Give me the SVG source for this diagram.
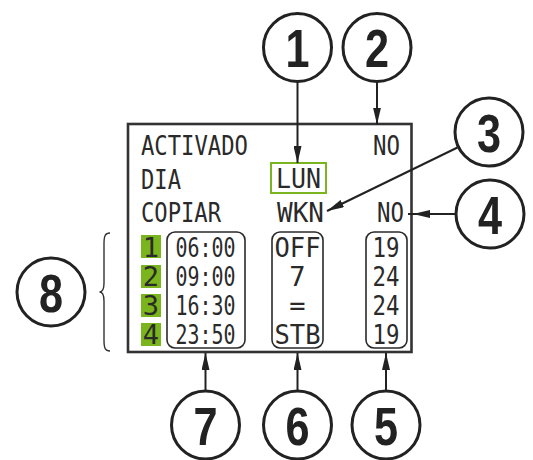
<svg xmlns="http://www.w3.org/2000/svg" width="533" height="460" viewBox="0 0 533 460">
<style>
.lcd{font-family:"DejaVu Sans Mono","Liberation Mono",monospace;font-size:27px;fill:#2a2a2a}
.mid{text-anchor:middle}
.circ{fill:#fff;stroke:#222;stroke-width:3}
.num{font-family:"Liberation Sans","Arial",sans-serif;font-weight:bold;font-size:54px;fill:#222;text-anchor:middle}
.conn{fill:none;stroke:#222;stroke-width:2}
.rbox{fill:none;stroke:#2a2a2a;stroke-width:1.6}
.sq{fill:#7ab51d}
</style>
<defs>
<marker id="ah" viewBox="0 0 17 8" refX="17" refY="4" markerWidth="17" markerHeight="8" markerUnits="userSpaceOnUse" orient="auto">
<path d="M0,0 L17,4 L0,8 Z" fill="#222"/>
</marker>
</defs>
<rect width="533" height="460" fill="#fff"/>

<g id="display">
<rect x="128" y="124" width="283.5" height="228" fill="#fff" stroke="#333" stroke-width="2.6"/>
<text class="lcd" x="141" y="155" textLength="107" lengthAdjust="spacingAndGlyphs">ACTIVADO</text>
<text class="lcd" x="373" y="155" textLength="27" lengthAdjust="spacingAndGlyphs">NO</text>
<text class="lcd" x="141" y="189" textLength="40" lengthAdjust="spacingAndGlyphs">DIA</text>
<rect x="271" y="163" width="55" height="30" fill="none" stroke="#7ab51d" stroke-width="2"/>
<text class="lcd" x="276" y="188" textLength="45" lengthAdjust="spacingAndGlyphs">LUN</text>
<text class="lcd" x="141" y="222" textLength="80" lengthAdjust="spacingAndGlyphs">COPIAR</text>
<text class="lcd" x="277" y="222" textLength="47" lengthAdjust="spacingAndGlyphs">WKN</text>
<text class="lcd" x="377" y="222" textLength="27" lengthAdjust="spacingAndGlyphs">NO</text>
</g>

<g id="programs">
<rect class="sq" x="141" y="235" width="20" height="23"/>
<rect class="sq" x="141" y="265" width="20" height="23"/>
<rect class="sq" x="141" y="294" width="20" height="23"/>
<rect class="sq" x="141" y="323" width="20" height="23"/>
<text class="lcd mid" x="151" y="256.5">1</text>
<text class="lcd mid" x="151" y="285.5">2</text>
<text class="lcd mid" x="151" y="314.5">3</text>
<text class="lcd mid" x="151" y="343.5">4</text>
</g>

<g id="times">
<rect class="rbox" x="167" y="232" width="78" height="116" rx="8"/>
<text class="lcd mid" x="205.5" y="256.5" textLength="60" lengthAdjust="spacingAndGlyphs">06:00</text>
<text class="lcd mid" x="205.5" y="285.5" textLength="60" lengthAdjust="spacingAndGlyphs">09:00</text>
<text class="lcd mid" x="205.5" y="314.5" textLength="60" lengthAdjust="spacingAndGlyphs">16:30</text>
<text class="lcd mid" x="205.5" y="343.5" textLength="60" lengthAdjust="spacingAndGlyphs">23:50</text>
</g>

<g id="modes">
<rect class="rbox" x="272" y="232" width="51" height="116" rx="8"/>
<text class="lcd mid" x="297.5" y="256.5" textLength="46" lengthAdjust="spacingAndGlyphs">OFF</text>
<text class="lcd mid" x="297.5" y="285.5">7</text>
<text class="lcd mid" x="297.5" y="314.5">=</text>
<text class="lcd mid" x="297.5" y="343.5" textLength="46" lengthAdjust="spacingAndGlyphs">STB</text>
</g>

<g id="temps">
<rect class="rbox" x="366" y="232" width="41" height="116" rx="8"/>
<text class="lcd mid" x="386" y="256.5" textLength="27" lengthAdjust="spacingAndGlyphs">19</text>
<text class="lcd mid" x="386" y="285.5" textLength="27" lengthAdjust="spacingAndGlyphs">24</text>
<text class="lcd mid" x="386" y="314.5" textLength="27" lengthAdjust="spacingAndGlyphs">24</text>
<text class="lcd mid" x="386" y="343.5" textLength="27" lengthAdjust="spacingAndGlyphs">19</text>
</g>

<g id="connectors">
<path class="conn" d="M297.5,81.5 L297.5,163" marker-end="url(#ah)"/>
<path class="conn" d="M377,81.5 L377,124.5" marker-end="url(#ah)"/>
<path class="conn" d="M457.5,147.5 L327,211" marker-end="url(#ah)"/>
<path class="conn" d="M456,214 L413,214 L408,214" marker-mid="url(#ah)"/>
<path class="conn" d="M386,391 L386,353" marker-end="url(#ah)"/>
<path class="conn" d="M297.5,391 L297.5,353" marker-end="url(#ah)"/>
<path class="conn" d="M205.5,391 L205.5,353" marker-end="url(#ah)"/>
<path d="M110,233 C105,233 104,236 104,244 L104,283 C104,289 102,292 99.5,292 C102,292 104,295 104,301 L104,340 C104,348 105,351 110,351" fill="none" stroke="#333" stroke-width="1.4"/>
</g>

<g id="c1"><circle class="circ" cx="297.5" cy="47.5" r="34"/><text class="num" transform="translate(297.5,67) scale(0.8,1)">1</text></g>
<g id="c2"><circle class="circ" cx="377" cy="47.5" r="34"/><text class="num" transform="translate(377,67) scale(0.8,1)">2</text></g>
<g id="c3"><circle class="circ" cx="489" cy="132" r="34"/><text class="num" transform="translate(489,151.5) scale(0.8,1)">3</text></g>
<g id="c4"><circle class="circ" cx="490" cy="214" r="34"/><text class="num" transform="translate(490,233.5) scale(0.8,1)">4</text></g>
<g id="c5"><circle class="circ" cx="386" cy="425" r="34"/><text class="num" transform="translate(386,444.5) scale(0.8,1)">5</text></g>
<g id="c6"><circle class="circ" cx="297.5" cy="425" r="34"/><text class="num" transform="translate(297.5,444.5) scale(0.8,1)">6</text></g>
<g id="c7"><circle class="circ" cx="205.5" cy="425" r="34"/><text class="num" transform="translate(205.5,444.5) scale(0.8,1)">7</text></g>
<g id="c8"><circle class="circ" cx="51" cy="292" r="34"/><text class="num" transform="translate(51,311.5) scale(0.8,1)">8</text></g>
</svg>
